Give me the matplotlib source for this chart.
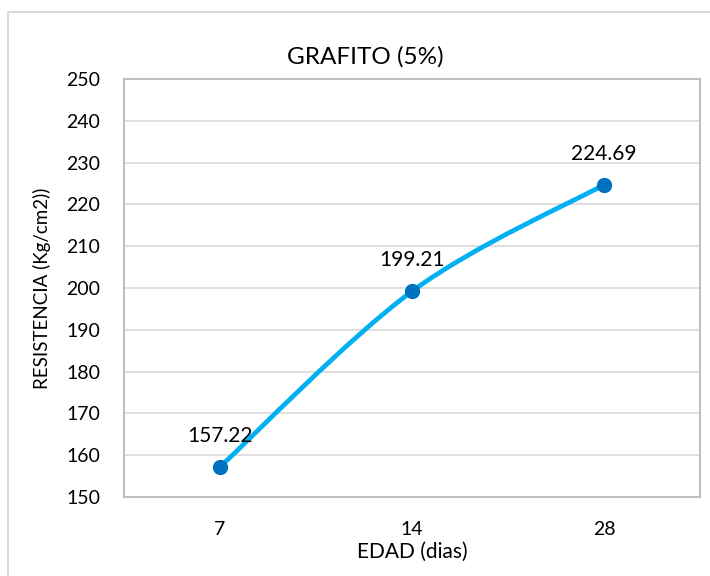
import numpy as np
import matplotlib
matplotlib.use("Agg")
import matplotlib.pyplot as plt
from matplotlib.path import Path
from matplotlib.patches import PathPatch, Rectangle

# data
edad = ["7", "14", "28"]
resistencia = [157.22, 199.21, 224.69]
y_ticks = list(range(150, 251, 10))

plt.rcParams['font.family'] = ['Lato', 'DejaVu Sans']

LINE_COLOR = "#00B0F0"
MARKER_COLOR = "#0070C0"
GRID_COLOR = "#D9D9D9"


def smooth_path(xs, ys):
    """Excel-like smoothed line: Catmull-Rom segments as cubic Beziers."""
    pts = np.column_stack([xs, ys]).astype(float)
    n = len(pts)
    verts = [pts[0]]
    codes = [Path.MOVETO]
    for i in range(n - 1):
        p0 = pts[i - 1] if i > 0 else pts[i]
        p1 = pts[i]
        p2 = pts[i + 1]
        p3 = pts[i + 2] if i + 2 < n else pts[i + 1]
        c1 = p1 + (p2 - p0) / 6.0
        c2 = p2 - (p3 - p1) / 6.0
        verts += [c1, c2, p2]
        codes += [Path.CURVE4] * 3
    return Path(verts, codes)


fig = plt.figure(figsize=(7.1, 5.76), dpi=100)
ax = fig.add_axes([124 / 710, 1 - 497 / 576, (700 - 124) / 710, (497 - 79) / 576])

# outer chart border
fig.patches.append(Rectangle((8 / 710, -0.05), 1.0, 1 - 12 / 576 + 0.05,
                             transform=fig.transFigure, fill=False,
                             edgecolor=GRID_COLOR, linewidth=1.5))

x = np.arange(len(edad))
ax.add_patch(PathPatch(smooth_path(x, resistencia), fill=False,
                       edgecolor=LINE_COLOR, linewidth=3.4,
                       capstyle='round', zorder=3))
ax.plot(x, resistencia, linestyle='none', marker='o', markersize=10,
        color=MARKER_COLOR, zorder=4)

for xi, v in zip(x, resistencia):
    ax.annotate(f"{v:.2f}", (xi, v), xytext=(0, 15), textcoords='offset points',
                ha='center', va='bottom', fontsize=15, color='black', zorder=5)

ax.set_xlim(-0.5, len(edad) - 0.5)
ax.set_ylim(150, 250)
ax.set_xticks(x)
ax.set_xticklabels(edad)
ax.set_yticks(y_ticks)
ax.tick_params(axis='both', length=0, labelsize=14, pad=17)
ax.grid(axis='y', color=GRID_COLOR, linewidth=1.2)
ax.set_axisbelow(True)
for s in ax.spines.values():
    s.set_color("#BFBFBF")
    s.set_linewidth(1.5)

fig.text(365 / 710, 1 - 57 / 576, "GRAFITO (5%)", fontsize=17.5,
         ha='center', va='center')
ax.set_xlabel("EDAD (dias)", fontsize=15, labelpad=3)
ax.set_ylabel("RESISTENCIA (Kg/cm2))", fontsize=13.5, labelpad=11)

fig.savefig("out.png", dpi=100)
